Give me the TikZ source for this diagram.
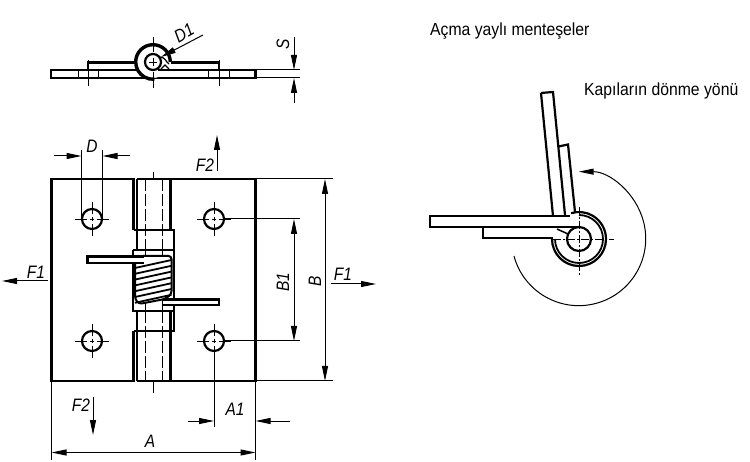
\documentclass[tikz,border=0pt]{standalone}
\usepackage{fontspec}
\setmainfont{Liberation Sans}
\newfontfamily\dimfont[FakeStretch=0.86]{Liberation Sans Italic}
\newfontfamily\capfont[FakeStretch=0.9]{Liberation Sans}
\usetikzlibrary{arrows.meta}
\tikzset{
  outline/.style={line width=2.2pt,line join=miter},
  hair/.style={line width=1pt},
  cline/.style={line width=0.9pt},
  hidden/.style={line width=1pt,dash pattern=on 12pt off 3pt},
  dimarrow/.style={hair,-{Triangle[length=15pt,width=6pt]}},
  bothdim/.style={hair,{Triangle[length=15pt,width=6pt]}-{Triangle[length=15pt,width=6pt]}},
  dimtxt/.style={font=\dimfont\fontsize{18}{18}\selectfont,inner sep=0pt},
  captxt/.style={font=\capfont\fontsize{17.5}{18}\selectfont,inner sep=0pt,anchor=west},
}
\newcommand{\holemark}[2]{
  \draw[line width=2.2pt] (#1,#2) circle (10);
  \draw[cline] (#1-17,#2) -- (#1-5,#2) (#1-2,#2) -- (#1+2,#2) (#1+5,#2) -- (#1+17,#2)
               (#1,#2-17) -- (#1,#2-5) (#1,#2-2) -- (#1,#2+2) (#1,#2+5) -- (#1,#2+17);
}
\begin{document}
\begin{tikzpicture}[x=1pt,y=-1pt]
\useasboundingbox (0,0) rectangle (750,462);
% --- top view
\draw[outline] (51,70) rectangle (255.5,78);
\draw[outline] (88,70) -- (88,62.5) -- (136,62.5);
\draw[outline] (171,62.5) -- (219,62.5) -- (219,70);
\fill[white] (153,62) circle (16);
\draw[line width=3.4pt] (170.3,62) arc[start angle=0,end angle=-275,radius=17.3];
\draw[line width=2.2pt] (153,62) circle (8);
\draw[line width=2.2pt] (158,70) -- (173,70);
\draw[line width=1.2pt] (160,57) .. controls (165,57) and (166,62) .. (169,64);
\draw[line width=1.2pt] (161,69) -- (165,65) -- (169,69);
\draw[cline] (153,37) -- (153,52) (153,58) -- (153,66) (153,72) -- (153,88);
\draw[cline] (149,62) -- (157,62);
\draw[cline] (88,60) -- (88,86) (219,60) -- (219,86);
\draw[cline] (78,70) -- (78,78) (98,70) -- (98,78) (208,70) -- (208,78) (229,70) -- (229,78);
\coordinate (d1a) at (203,35);
\coordinate (d1b) at (161,57);
\draw[dimarrow] (d1a) -- (d1b);
\node[dimtxt,rotate=30] (d1) at (184,33) {D1};
\draw[hair] (255,70) -- (300,70) (255,78) -- (300,78);
\coordinate (s1) at (294,37); \coordinate (s2) at (294,70);
\coordinate (s3) at (294,103); \coordinate (s4) at (294,78);
\draw[dimarrow] (s1) -- (s2);
\draw[dimarrow] (s3) -- (s4);
\node[dimtxt,rotate=90] (s) at (283,44) {S};
% --- front view plates
\draw[outline] (133.5,230) -- (133.5,179) -- (51.5,179) -- (51.5,381) -- (133.5,381) -- (133.5,331);
\draw[outline] (137,179) -- (170.5,179) -- (255.5,179) -- (255.5,381) -- (137,381);
\draw[outline] (137,179) -- (137,230) (170.5,179) -- (170.5,230);
\draw[outline] (133.5,230) -- (174,230) -- (174,250);
\draw[outline] (137,230) -- (137,250);
\draw[outline] (133,250) -- (174,250);
\draw[outline] (133,250) -- (133,311) -- (174,311) (174,250) -- (174,299);
\draw[outline] (137,311) -- (137,381) (170.5,311) -- (170.5,381);
\draw[outline] (174,305) -- (174,331) -- (133.5,331);
% hidden
\draw[hidden] (145,179) -- (145,250) (162,179) -- (162,250);
\draw[hidden] (145,311) -- (145,381) (162,311) -- (162,381);
\draw[cline] (153,172) -- (153,179) (153,381) -- (153,393);
\draw[cline] (145,250) -- (145,258) (162,250) -- (162,258);
\draw[cline] (145,303) -- (145,311) (162,300) -- (162,311);
% spring
\draw[fill=white,line width=2pt,rounded corners=3pt] (135,262) -- (140,256) -- (171.5,256) -- (171.5,294) -- (165,299) -- (139,304) -- (135,299) -- cycle;
\foreach \i in {0,...,6}{
  \draw[line width=1.8pt] (135,{268+5.8*\i}) -- (171.5,{260+5.8*\i});
}
% arms
\draw[outline,fill=white] (144,256.5) -- (87.5,256.5) -- (87.5,263) -- (144,263);
\draw[outline,fill=white] (163,299.5) -- (219,299.5) -- (219,305) -- (163,305);
% holes
\holemark{92}{219}
\holemark{214}{219}
\holemark{92}{341}
\holemark{214}{341}
% dims front
\draw[hair] (81.5,150) -- (81.5,219) (102.5,150) -- (102.5,219);
\coordinate (da) at (54,156); \coordinate (db) at (81.5,156);
\coordinate (dc) at (130,156); \coordinate (dd) at (102.5,156);
\draw[dimarrow] (da) -- (db);
\draw[dimarrow] (dc) -- (dd);
\node[dimtxt] (dtx) at (92,146) {D};
\coordinate (f2a) at (217,171); \coordinate (f2b) at (217,135);
\draw[dimarrow] (f2a) -- (f2b);
\node[dimtxt] (f2t) at (205,165) {F2};
\coordinate (f1a) at (48,281); \coordinate (f1b) at (2,281);
\draw[dimarrow] (f1a) -- (f1b);
\node[dimtxt] (f1l) at (36,272) {F1};
\coordinate (f1c) at (331,284); \coordinate (f1d) at (376,284);
\draw[dimarrow] (f1c) -- (f1d);
\node[dimtxt] (f1r) at (343,274) {F1};
\draw[hair] (224,219) -- (300,219) (256,179) -- (333,179);
\draw[hair] (256,381) -- (333,381) (224,341) -- (300,341);
\coordinate (b1t) at (294,219); \coordinate (b1b) at (294,341);
\draw[bothdim] (b1t) -- (b1b);
\node[dimtxt,rotate=90] (b1) at (283,282) {B1};
\coordinate (bt) at (325,179); \coordinate (bb) at (325,381);
\draw[bothdim] (bt) -- (bb);
\node[dimtxt,rotate=90] (b) at (315,281) {B};
\coordinate (f2c) at (93,397); \coordinate (f2d) at (93,435);
\draw[dimarrow] (f2c) -- (f2d);
\node[dimtxt] (f2b) at (81,405) {F2};
\draw[hair] (214,358) -- (214,427) (255.5,381) -- (255.5,460) (51.5,381) -- (51.5,460);
\coordinate (a1a) at (188,421); \coordinate (a1b) at (214,421);
\coordinate (a1c) at (290,421); \coordinate (a1d) at (255.5,421);
\draw[dimarrow] (a1a) -- (a1b);
\draw[dimarrow] (a1c) -- (a1d);
\node[dimtxt] (a1) at (235,409) {A1};
\coordinate (aa) at (51.5,452.5); \coordinate (ab) at (255.5,452.5);
\draw[bothdim] (aa) -- (ab);
\node[dimtxt] (atx) at (150,441) {A};
% --- right view
\draw[outline] (541,93) -- (553,92) -- (565,215);
\draw[outline] (541,93) -- (553,216);
\draw[outline] (558.5,146.5) -- (568,144.5) -- (575,212);
\draw[outline] (483,227) -- (483,238) -- (553,238);
\draw[outline] (570,216) -- (430,216) -- (430,227) -- (577,227);
\draw[line width=2.2pt] (552,239) arc[start angle=-180,end angle=-467,radius=27];
\draw[line width=1.8pt] (555,239) arc[start angle=-180,end angle=-450,radius=24];
\draw[line width=2.2pt] (579,239) circle (12);
\draw[line width=1.5pt] (557,229) -- (568,234);
\draw[cline,dash pattern=on 8pt off 2pt on 2pt off 2pt] (553,239) -- (614,239);
\draw[cline,dash pattern=on 8pt off 2pt on 2pt off 2pt] (579,207) -- (579,275);
\draw[hair,-{Triangle[length=15pt,width=6pt]}] (514,256) arc[start angle=-195,end angle=-450,radius=67];
\node[captxt] (t1) at (430,31) {Açma yaylı menteşeler};
\node[captxt] (t2) at (584,91) {Kapıların dönme yönü};
\end{tikzpicture}
\end{document}
